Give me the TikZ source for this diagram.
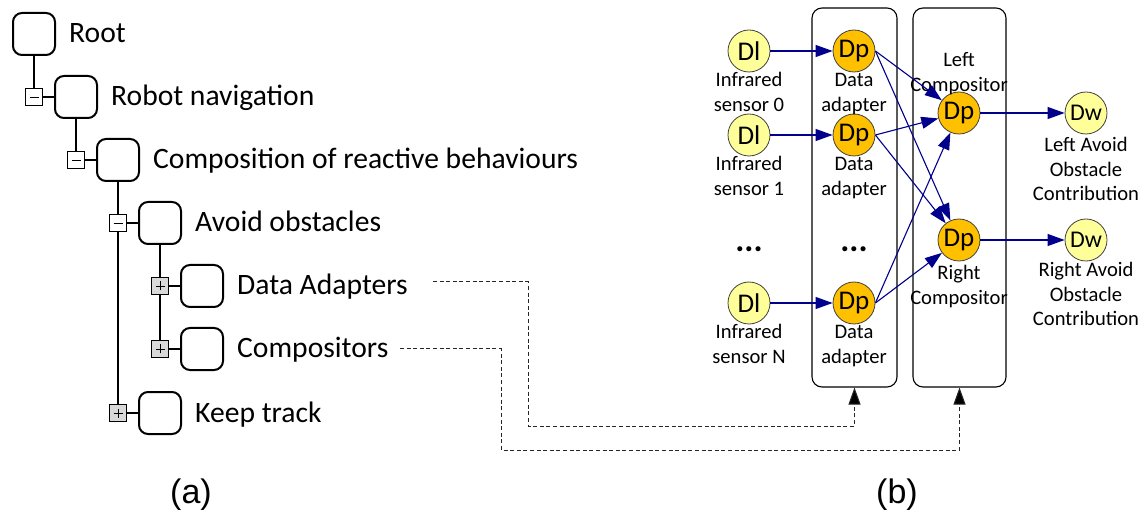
\documentclass[tikz,border=0pt]{standalone}
\usepackage{fontspec}
\setmainfont{Carlito}
\newfontfamily\capfont{Liberation Sans}
\usetikzlibrary{arrows.meta,calc}

\definecolor{navyline}{RGB}{0,0,140}
\definecolor{paleyellow}{RGB}{255,255,153}
\definecolor{amber}{RGB}{255,192,0}
\definecolor{toggrey}{RGB}{217,217,217}

\newcommand{\treefont}{\fontsize{29.6}{34}\selectfont}
\newcommand{\smallfont}{\fontsize{20.6}{24.5}\selectfont}
\newcommand{\circfont}{\fontsize{27}{30}\selectfont}
\newcommand{\stack}[1]{\begin{tabular}[t]{@{}c@{}}#1\end{tabular}}

\tikzset{
  tbox/.style={draw, line width=2pt, rounded corners=9pt, minimum width=42pt,
    minimum height=42pt, inner sep=0pt},
  togminus/.style={draw, line width=0.8pt, fill=white, minimum size=17pt, inner sep=0pt,
    path picture={\draw[line width=0.8pt]
      ([xshift=-4.5pt]path picture bounding box.center) -- ([xshift=4.5pt]path picture bounding box.center);}},
  togplus/.style={togminus, fill=toggrey,
    path picture={\draw[line width=0.8pt]
      ([xshift=-4.5pt]path picture bounding box.center) -- ([xshift=4.5pt]path picture bounding box.center)
      ([yshift=-4.5pt]path picture bounding box.center) -- ([yshift=4.5pt]path picture bounding box.center);}},
  treeline/.style={line width=2pt},
  tlabel/.style={anchor=base west, font=\treefont, inner sep=0pt},
  holder/.style={draw, line width=1.1pt, rounded corners=10pt, inner sep=0pt},
  dlnode/.style={circle, draw=black!75, line width=0.8pt, fill=paleyellow,
    minimum size=42pt, inner sep=0pt, font=\circfont},
  dwnode/.style={dlnode, font=\fontsize{24}{28}\selectfont},
  dpnode/.style={dlnode, fill=amber},
  clabel/.style={anchor=base, font=\smallfont, inner sep=0pt},
  ellip/.style={anchor=base, inner sep=0pt, font=\fontsize{34}{36}\selectfont\bfseries},
  flow/.style={draw=navyline, line width=1.1pt, -{Triangle[length=17pt,width=12pt]}},
  reflink/.style={draw=black!85, line width=1pt, dash pattern=on 4pt off 2.6pt,
    -{Triangle[length=17pt,width=12pt,fill=black]}},
}

\begin{document}
\begin{tikzpicture}[x=1pt,y=-1pt]
\useasboundingbox (0,0) rectangle (1148,510);

% ---------- (a) behaviour tree ----------
\node[tbox] (n1) at (34,34)  {};
\node[tbox] (n2) at (76,97)  {};
\node[tbox] (n3) at (118,160) {};
\node[tbox] (n4) at (160,223) {};
\node[tbox] (n5) at (202,286) {};
\node[tbox] (n6) at (202,349) {};
\node[tbox] (n7) at (160,413) {};

\node[togminus] (t2) at (34,97)   {};
\node[togminus] (t3) at (76,160)  {};
\node[togminus] (t4) at (118,223) {};
\node[togplus]  (t5) at (160,286) {};
\node[togplus]  (t6) at (160,349) {};
\node[togplus]  (t7) at (118,413) {};

\draw[treeline] (n1.south) -- (t2.north) (t2.east) -- (n2.west);
\draw[treeline] (n2.south) -- (t3.north) (t3.east) -- (n3.west);
\draw[treeline] (n3.south) -- (t4.north) (t4.east) -- (n4.west);
\draw[treeline] (t4.south) -- (t7.north) (t7.east) -- (n7.west);
\draw[treeline] (n4.south) -- (t5.north) (t5.east) -- (n5.west);
\draw[treeline] (t5.south) -- (t6.north) (t6.east) -- (n6.west);

\node[tlabel] (l1) at ($(n1.east)+(13,9)$) {Root};
\node[tlabel] (l2) at ($(n2.east)+(13,9)$) {Robot navigation};
\node[tlabel] (l3) at ($(n3.east)+(13,9)$) {Composition of reactive behaviours};
\node[tlabel] (l4) at ($(n4.east)+(13,9)$) {Avoid obstacles};
\node[tlabel] (l5) at ($(n5.east)+(13,9)$) {Data Adapters};
\node[tlabel] (l6) at ($(n6.east)+(13,9)$) {Compositors};
\node[tlabel] (l7) at ($(n7.east)+(13,9)$) {Keep track};

% ---------- (b) data flow ----------
\node[holder, minimum width=85pt, minimum height=379pt] (adp) at (854.5,197.5) {};
\node[holder, minimum width=93pt, minimum height=379pt] (cmp) at (959.5,197.5) {};

\node[dlnode] (s0) at (749,51)  {Dl};
\node[dlnode] (s1) at (749,135) {Dl};
\node[dlnode] (sn) at (749,303) {Dl};
\node[dpnode] (a0) at (854,51)  {Dp};
\node[dpnode] (a1) at (854,135) {Dp};
\node[dpnode] (an) at (854,303) {Dp};
\node[dpnode] (lc) at (959,113) {Dp};
\node[dpnode] (rc) at (959,240) {Dp};
\node[dwnode] (lw) at (1086,113) {Dw};
\node[dwnode] (rw) at (1086,240) {Dw};

\node[clabel] at (749,87)  {\stack{Infrared\\sensor 0}};
\node[clabel] at (749,171) {\stack{Infrared\\sensor 1}};
\node[clabel] at (749,339) {\stack{Infrared\\sensor N}};
\node[clabel] at (854,87)  {\stack{Data\\adapter}};
\node[clabel] at (854,171) {\stack{Data\\adapter}};
\node[clabel] at (854,339) {\stack{Data\\adapter}};
\node[clabel] at (959,67)  {\stack{Left\\Compositor}};
\node[clabel] at (959,280) {\stack{Right\\Compositor}};
\node[clabel] at (1086,152) {\stack{Left Avoid\\Obstacle\\Contribution}};
\node[clabel] at (1086,277) {\stack{Right Avoid\\Obstacle\\Contribution}};

\node[ellip] (dots1) at (749,252) {...};
\node[ellip] (dots2) at (854,252) {...};

\draw[flow] (s0) -- (a0);
\draw[flow] (s1) -- (a1);
\draw[flow] (sn) -- (an);
\foreach \src in {a0,a1,an} {
  \draw[flow] (\src.east) -- (lc);
  \draw[flow] (\src.east) -- (rc);
}
\draw[flow] (lc) -- (lw);
\draw[flow] (rc) -- (rw);

% links from the tree entries to their groups
\coordinate (daStart) at (433,282);
\coordinate (daBend) at (528,426);
\coordinate (coStart) at (400,349);
\coordinate (coBend) at (501,450);
\draw[reflink] (daStart) -| (daBend) -| (adp.south);
\draw[reflink] (coStart) -| (coBend) -| (cmp.south);

% captions
\node[anchor=base, inner sep=0pt, font=\capfont\fontsize{34}{38}\selectfont] (capa) at (191,503) {(a)};
\node[anchor=base, inner sep=0pt, font=\capfont\fontsize{34}{38}\selectfont] (capb) at (897,503) {(b)};
\end{tikzpicture}
\end{document}
